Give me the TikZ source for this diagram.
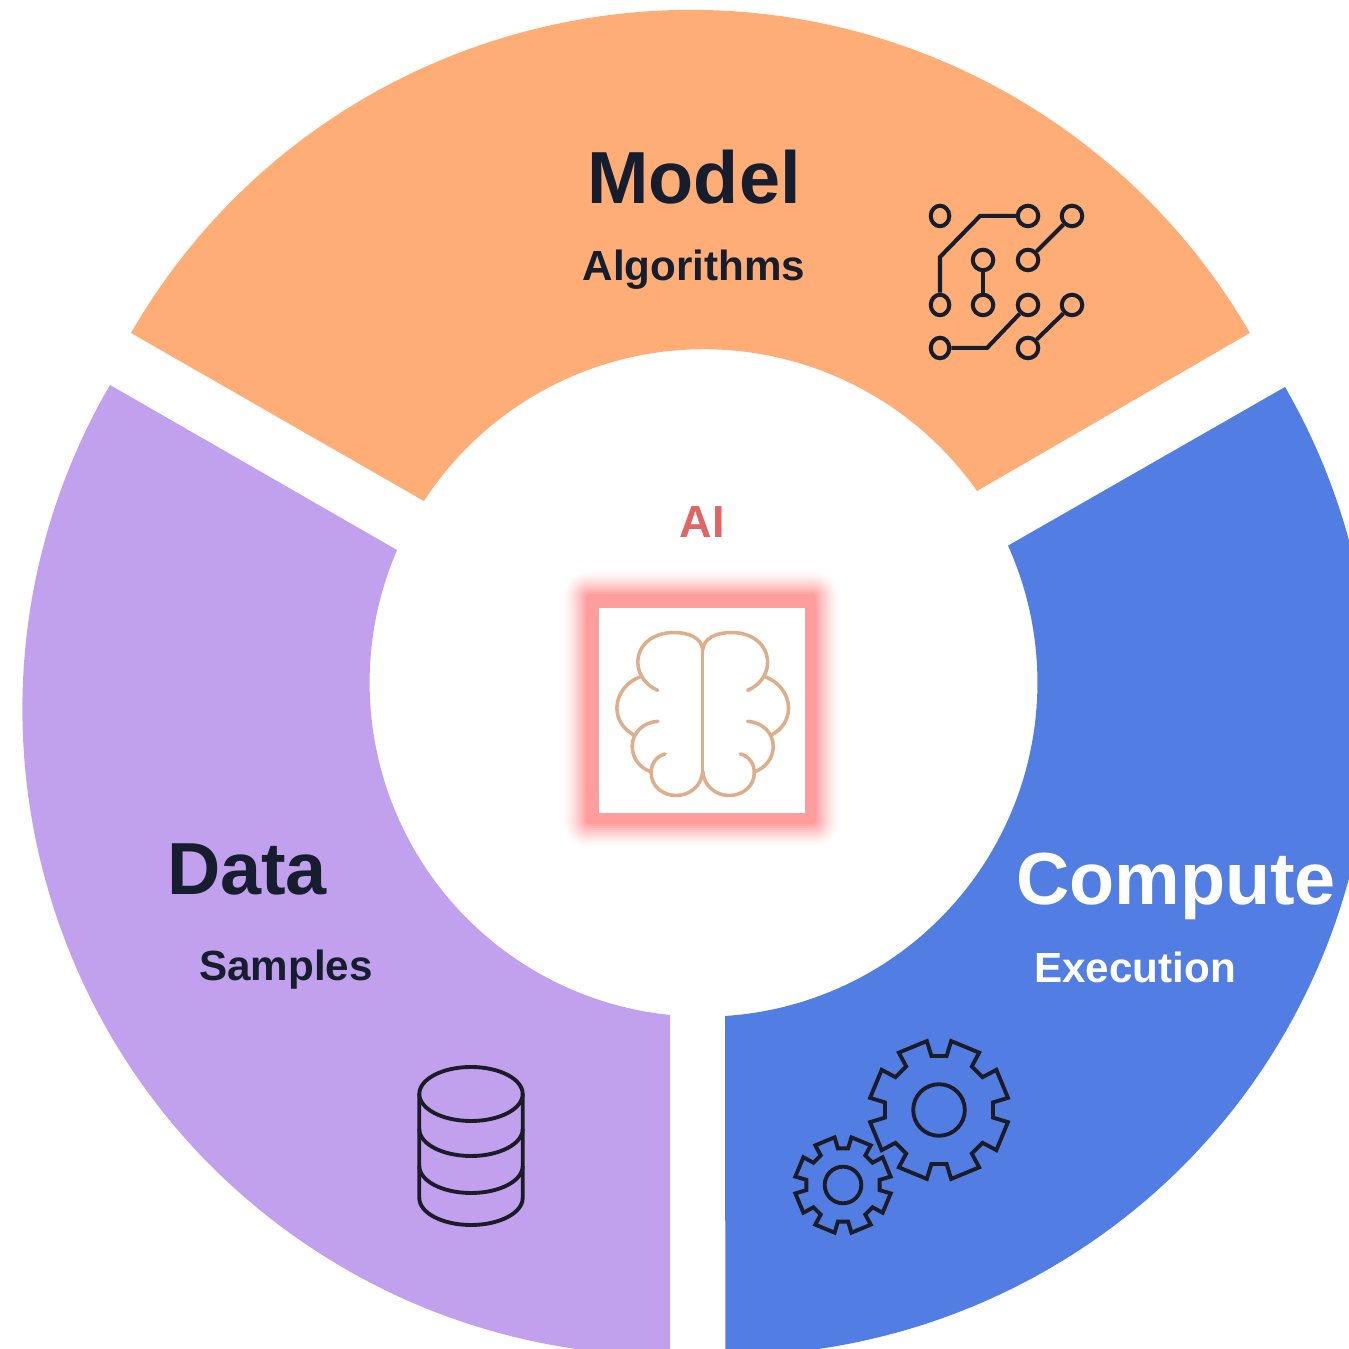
\documentclass[tikz,border=0pt]{standalone}
\usepackage{fontspec}
\setmainfont{Liberation Sans}
\usetikzlibrary{shapes.geometric}
\definecolor{modelorange}{HTML}{FFAD76}
\definecolor{datapurple}{HTML}{C1A1ED}
\definecolor{computeblue}{HTML}{527DE3}
\definecolor{inkdark}{HTML}{151D2E}
\definecolor{iconblack}{HTML}{1C1C28}
\definecolor{aired}{HTML}{E06666}
\definecolor{glowred}{HTML}{FF9C9E}
\definecolor{brainline}{HTML}{DDAE8C}
\tikzset{
  bigtitle/.style={font=\fontsize{21}{25}\selectfont\bfseries,anchor=base,inner sep=0pt},
  subtitle/.style={font=\fontsize{12}{14}\selectfont\bfseries,anchor=base,inner sep=0pt},
  pad/.style={draw=inkdark,line width=1.15pt,circle,minimum size=0.205cm,inner sep=0pt},
  padleft/.style={draw=inkdark,line width=1.15pt,ellipse,minimum width=0.185cm,minimum height=0.205cm,inner sep=0pt},
  trace/.style={draw=inkdark,line width=1.15pt,line join=miter},
  iconline/.style={draw=iconblack,line width=1.1pt,line join=miter},
  brain/.style={draw=brainline,line width=1pt,line cap=round}
}
\begin{document}
\begin{tikzpicture}
%\draw[help lines, color=gray!30, dashed] (0,0) grid (13.49,13.49);
\useasboundingbox (0,0) rectangle (13.49,13.49);
% sectors
\fill[modelorange] (1.31,10.16) arc[start angle=150,end angle=30,radius=6.46] -- (9.77,8.58) arc[start angle=35.14,end angle=146.95,radius=3.34] -- cycle;
\fill[datapurple] (1.10,9.64) arc[start angle=149.83,end angle=270,radius=6.46] -- (6.70,-0.07) -- (6.70,3.34) arc[start angle=264.23,end angle=156.6,radius=3.34] -- cycle;
\fill[computeblue] (12.85,9.62) arc[start angle=29.97,end angle=-90,radius=6.46] -- (7.25,3.33) arc[start angle=-86.3,end angle=24.23,radius=3.34] -- cycle;
% labels
\node[bigtitle,inkdark] (model) at (6.94,11.45) {Model};
\node[subtitle,inkdark] (algorithms) at (6.94,10.68) {Algorithms};
\node[bigtitle,inkdark] (data) at (2.47,4.54) {Data};
\node[subtitle,inkdark] (samples) at (2.86,3.68) {Samples};
\node[bigtitle,white] (compute) at (11.76,4.44) {Compute};
\node[subtitle,white] (execution) at (11.35,3.66) {Execution};
\node[font=\fontsize{12.8}{15}\selectfont\bfseries,anchor=base,inner sep=0pt,aired] (ai) at (7.02,8.11) {AI};
\node[font=\fontsize{11}{13}\selectfont,anchor=base east,inner sep=0pt,inkdark] (cutoff) at (0.03,4.26) {e};
% glow round the brain
\foreach \g [evaluate=\g as \gmix using 100*(\g/12)^1.4, evaluate=\g as \ghalf using 1.40-\g*0.021, evaluate=\g as \gcorner using 0.28-\g*0.021] in {1,...,12}
  \fill[glowred!\gmix!white,rounded corners=\gcorner cm] (7.01-\ghalf,6.40-\ghalf) rectangle (7.01+\ghalf,6.40+\ghalf);
\node[fill=white,minimum width=2.06cm,minimum height=2.05cm,inner sep=0pt] (aibox) at (7.02,6.385) {};
% brain
\foreach \s in {1,-1}{
  \begin{scope}[shift={(7.027,7.79)},xscale=\s,x=0.003333cm,y=-0.003333cm]
  \draw[brain] (0,240) -- (0,615);
  \draw[brain] (0,240) .. controls (3,205) and (40,188) .. (87,188) .. controls (150,188) and (195,225) .. (195,278) .. controls (195,315) and (170,347) .. (135,362);
  \draw[brain] (190,322) .. controls (230,337) and (258,375) .. (258,415) .. controls (258,450) and (238,480) .. (205,497);
  \draw[brain] (135,455) .. controls (180,458) and (212,490) .. (212,530) .. controls (212,565) and (190,595) .. (155,607);
  \draw[brain] (113,553) .. controls (138,560) and (155,580) .. (155,610) .. controls (155,650) and (120,678) .. (80,678) .. controls (40,678) and (3,650) .. (0,605);
  \end{scope}
}
% circuit
\node[padleft] (c1) at (9.40,11.33) {};
\node[pad] (c2) at (10.28,11.33) {};
\node[pad] (c3) at (10.72,11.33) {};
\node[pad] (c4) at (9.83,10.89) {};
\node[pad] (c5) at (10.28,10.89) {};
\node[padleft] (c6) at (9.40,10.44) {};
\node[pad] (c7) at (9.83,10.44) {};
\node[pad] (c8) at (10.28,10.44) {};
\node[pad] (c9) at (10.72,10.44) {};
\node[padleft] (c10) at (9.40,10.01) {};
\node[pad] (c11) at (10.28,10.01) {};
\coordinate (b1) at (9.80,11.33);
\coordinate (b2) at (9.40,10.92);
\coordinate (b3) at (9.87,10.01);
\draw[trace] (c2) -- (b1) -- (b2) -- (c6);
\draw[trace] (c3) -- (c5);
\draw[trace] (c4) -- (c7);
\draw[trace] (c8) -- (b3) -- (c10);
\draw[trace] (c9) -- (c11);
% database
\draw[iconline] (4.71,2.55) ellipse [x radius=0.517,y radius=0.27];
\draw[iconline] (4.193,2.55) -- (4.193,1.51) arc[start angle=180,end angle=360,x radius=0.517,y radius=0.27] -- (5.227,2.55);
\draw[iconline] (4.193,2.20) arc[start angle=180,end angle=360,x radius=0.517,y radius=0.27];
\draw[iconline] (4.193,1.83) arc[start angle=180,end angle=360,x radius=0.517,y radius=0.27];
% gears
\foreach \gx/\gy/\gr/\gn/\gh in {9.39/2.39/0.70/0.545/0.258,8.43/1.64/0.484/0.37/0.183}{
  \draw[iconline,shift={(\gx,\gy)}] (-10:\gr) \foreach \a in {0,45,...,315}{ -- (\a-10:\gr) -- (\a-8:\gn) -- (\a+8:\gn) -- (\a+10:\gr)} -- cycle;
  \draw[iconline] (\gx,\gy) circle (\gh);
}
\end{tikzpicture}
\end{document}
